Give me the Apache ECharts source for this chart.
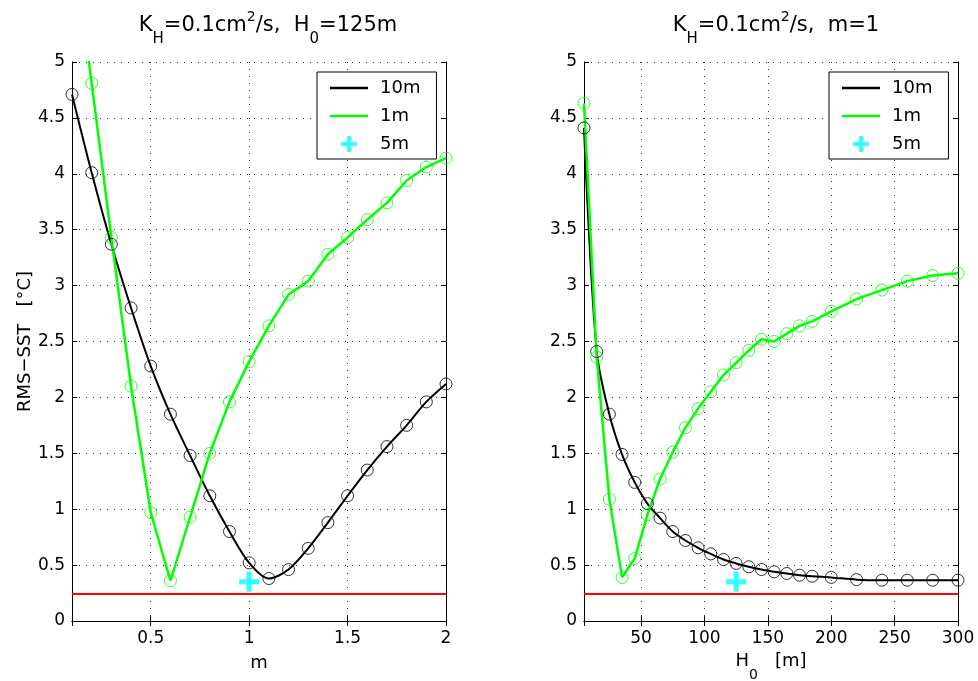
<!DOCTYPE html>
<html><head><meta charset="utf-8">
<script src="https://cdn.jsdelivr.net/npm/echarts@6/dist/echarts.min.js"></script>
<style>html,body{margin:0;padding:0;background:#fff}#c{width:978px;height:681px}</style>
</head><body><div id="c"></div>
<script>
// ---- data ----
const mValues   = [0.1,0.2,0.3,0.4,0.5,0.6,0.7,0.8,0.9,1.0,1.1,1.2,1.3,1.4,1.5,1.6,1.7,1.8,1.9,2.0];
const rms10mByM = [4.71,4.01,3.37,2.80,2.28,1.85,1.48,1.12,0.80,0.52,0.38,0.46,0.65,0.88,1.12,1.35,1.56,1.75,1.96,2.12];
const rms1mByM  = [6.2,4.81,3.43,2.10,0.97,0.36,0.93,1.50,1.96,2.32,2.64,2.92,3.04,3.28,3.43,3.59,3.74,3.94,4.06,4.14];
const h0Values  = [5,15,25,35,45,55,65,75,85,95,105,115,125,135,145,155,165,175,185,200,220,240,260,280,300];
const rms10mByH = [4.41,2.41,1.85,1.49,1.24,1.05,0.92,0.80,0.72,0.655,0.60,0.55,0.515,0.485,0.46,0.44,0.425,0.41,0.40,0.39,0.37,0.365,0.365,0.365,0.365];
const rms1mByH  = [4.63,2.36,1.09,0.39,0.56,0.95,1.27,1.51,1.73,1.90,2.05,2.20,2.31,2.42,2.52,2.50,2.57,2.64,2.68,2.77,2.88,2.96,3.04,3.09,3.11];
const best5mByM = [[1.0, 0.35]];
const best5mByH = [[125, 0.35]];
const refLevel  = 0.24;
const mRange = [0.1, 2];
const hRange = [5, 300];
const yRange = [0, 5];
const yStep  = 0.5;
const seriesNames = ['10m', '1m', '5m'];

// ---- style ----
const FONT = "'DejaVu Sans', 'Liberation Sans', Arial, sans-serif";
const BLACK = '#000', GREEN = '#00ff00', CYAN = '#00ffff', RED = '#ff0000';
const PLUS = 'path://M7.5,0H12.5V7.5H20V12.5H12.5V20H7.5V12.5H0V7.5H7.5Z';
const LINE_ICON = 'path://M0,0H38V2.5H0Z';
const zip = (xs, ys) => xs.map((x, i) => [x, ys[i]]);

const grids = [
  {left: 72, top: 62, width: 374, height: 559, outerBoundsMode: 'none', containLabel: false},
  {left: 584, top: 62, width: 374, height: 559, outerBoundsMode: 'none', containLabel: false}
];
const gridLine = {show: true, lineStyle: {color: '#333', width: 1, type: [1, 6]}};
const axisLine = {show: true, lineStyle: {color: BLACK, width: 1}};
const tick = {show: true, inside: true, length: 5, lineStyle: {color: BLACK}};
const lbl = {color: BLACK, fontSize: 17, fontFamily: FONT, fontWeight: 'normal'};
const nameLbl = Object.assign({}, lbl, {fontSize: 18});

function xAxes(gi, range, split, name, nameRich, gap) {
  return [
    {type: 'value', gridIndex: gi, position: 'bottom', min: range[0], max: range[1], splitNumber: split,
     axisLine, axisTick: tick, splitLine: gridLine,
     axisLabel: Object.assign({margin: 9, showMinLabel: false}, lbl),
     name, nameLocation: 'middle', nameGap: gap,
     nameTextStyle: Object.assign({rich: nameRich}, nameLbl)},
    {type: 'value', gridIndex: gi, position: 'top', min: range[0], max: range[1], splitNumber: split,
     axisLine, axisTick: tick, splitLine: {show: false}, axisLabel: {show: false}}
  ];
}
function yAxes(gi, name) {
  return [
    {type: 'value', gridIndex: gi, position: 'left', min: yRange[0], max: yRange[1], interval: yStep,
     axisLine, axisTick: tick, splitLine: gridLine,
     axisLabel: Object.assign({margin: 7}, lbl),
     name, nameLocation: 'middle', nameGap: 38, nameRotate: 90, nameTextStyle: nameLbl},
    {type: 'value', gridIndex: gi, position: 'right', min: yRange[0], max: yRange[1], interval: yStep,
     axisLine, axisTick: tick, splitLine: {show: false}, axisLabel: {show: false}}
  ];
}

function panelSeries(xi, yi, xs, y10, y1, best) {
  return [
    {name: '10m', type: 'line', xAxisIndex: xi, yAxisIndex: yi, data: zip(xs, y10),
     symbol: 'none', smooth: 0.3, lineStyle: {color: BLACK, width: 2}, itemStyle: {color: BLACK},
     z: 3, clip: true,
     markLine: {silent: true, symbol: 'none', label: {show: false},
       lineStyle: {color: RED, width: 2, type: 'solid'}, data: [{yAxis: refLevel}]}},
    {name: '10m pts', type: 'scatter', xAxisIndex: xi, yAxisIndex: yi, data: zip(xs, y10),
     symbol: 'circle', symbolSize: 12, itemStyle: {color: 'transparent', borderColor: BLACK, borderWidth: 1}, z: 4, clip: true},
    {name: '1m', type: 'line', xAxisIndex: xi, yAxisIndex: yi, data: zip(xs, y1),
     symbol: 'none', lineStyle: {color: GREEN, width: 2.5}, itemStyle: {color: GREEN}, z: 3, clip: true},
    {name: '1m pts', type: 'scatter', xAxisIndex: xi, yAxisIndex: yi, data: zip(xs, y1),
     symbol: 'circle', symbolSize: 12, itemStyle: {color: 'transparent', borderColor: GREEN, borderWidth: 1}, z: 4, clip: true},
    {name: '5m', type: 'scatter', xAxisIndex: xi, yAxisIndex: yi, data: best,
     symbol: PLUS, symbolSize: 20, itemStyle: {color: CYAN}, z: 5}
  ];
}

const titleRich = {
  n:   {fontSize: 21, lineHeight: 25, verticalAlign: 'top', padding: [5, 0, 0, 0], fontFamily: FONT, fontWeight: 'normal', color: BLACK},
  sup: {fontSize: 14, lineHeight: 14, verticalAlign: 'top', fontFamily: FONT, fontWeight: 'normal', color: BLACK},
  sub: {fontSize: 15, lineHeight: 15, verticalAlign: 'top', padding: [22, 0, 0, 0], fontFamily: FONT, fontWeight: 'normal', color: BLACK}
};
const hNameRich = {
  n:   {fontSize: 18, lineHeight: 20, verticalAlign: 'top', fontFamily: FONT, color: BLACK},
  sub: {fontSize: 14, lineHeight: 14, verticalAlign: 'top', padding: [16, 0, 0, 0], fontFamily: FONT, color: BLACK}
};

function legendAt(left) {
  return {
    data: [{name: '10m', icon: LINE_ICON}, {name: '1m', icon: LINE_ICON}, {name: '5m', icon: PLUS}],
    orient: 'vertical', left, top: 72, itemWidth: 38, itemHeight: 16, itemGap: 10, symbolKeepAspect: true,
    padding: [7, 16, 6, 13], borderColor: BLACK, borderWidth: 1, backgroundColor: '#fff', selectedMode: false,
    textStyle: Object.assign({}, lbl, {fontSize: 18, padding: [0, 0, 0, 7]})
  };
}

const option = {
  animation: false,
  backgroundColor: '#fff',
  title: [
    {text: '{n|K}{sub|H}{n|=0.1cm}{sup|2}{n|/s,  H}{sub|0}{n|=125m}', left: 263, top: 5, textAlign: 'center',
     textStyle: {rich: titleRich, fontWeight: 'normal'}},
    {text: '{n|K}{sub|H}{n|=0.1cm}{sup|2}{n|/s,  m=1}', left: 771, top: 5, textAlign: 'center',
     textStyle: {rich: titleRich, fontWeight: 'normal'}}
  ],
  legend: [legendAt(317), legendAt(829)],
  grid: grids,
  xAxis: [].concat(
    xAxes(0, mRange, 4, 'm', null, 33),
    xAxes(1, hRange, 6, '{n|H}{sub|0}{n|   [m]}', hNameRich, 28)
  ),
  yAxis: [].concat(yAxes(0, 'RMS\u2212SST   [°C]'), yAxes(1, '')),
  series: [].concat(
    panelSeries(0, 0, mValues, rms10mByM, rms1mByM, best5mByM),
    panelSeries(2, 2, h0Values, rms10mByH, rms1mByH, best5mByH)
  )
};
const chart = echarts.init(document.getElementById('c'), null, {renderer: 'canvas'});
chart.setOption(option);
</script></body></html>
